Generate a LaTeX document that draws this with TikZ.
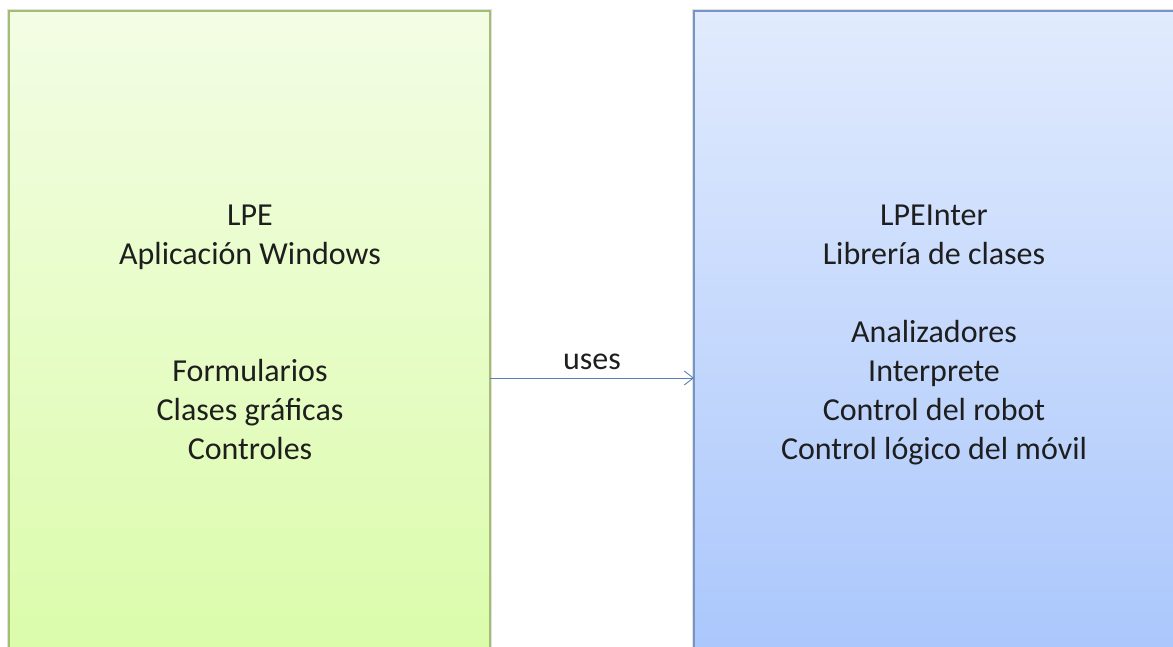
\documentclass[tikz,border=0pt]{standalone}
\usepackage{fontspec}
\setmainfont{Carlito}
\usetikzlibrary{arrows.meta}
\definecolor{greenTop}{HTML}{F3FDE4}
\definecolor{greenBot}{HTML}{D9FCA6}
\definecolor{greenEdge}{HTML}{A3BE72}
\definecolor{blueTop}{HTML}{E1EBFD}
\definecolor{blueBot}{HTML}{A6C4FC}
\definecolor{blueEdge}{HTML}{7595C4}
\definecolor{linkCol}{HTML}{5A7FB5}
\definecolor{txt}{HTML}{1E1E1E}
\begin{document}
\begin{tikzpicture}[x=1pt,y=-1pt,
  panel/.style={rectangle, minimum width=#1, line width=1.2pt, inner sep=0pt},
  txtblock/.style={text=txt, font=\fontsize{32}{39}\selectfont, align=center},
  link/.style={draw=linkCol, line width=0.9pt, -{Straight Barb[length=9pt,width=14pt]}}]
  \useasboundingbox (0,0) rectangle (1173,646);
  % soft shadows along the panel edges
  \fill[black!12] (7,9) rectangle (492,700);
  \fill[black!12] (692,9) rectangle (1190,700);
  % application panel
  \shade[top color=greenTop, bottom color=greenBot] (9,11) rectangle (490,700);
  \draw[greenEdge, line width=1.2pt] (9,700) -- (9,11) -- (490,11) -- (490,700);
  \node[panel=481pt, minimum height=689pt, anchor=north west] (app) at (9,11) {};
  % class library panel
  \shade[top color=blueTop, bottom color=blueBot] (694,11) rectangle (1190,700);
  \draw[blueEdge, line width=1.2pt] (694,700) -- (694,11) -- (1190,11);
  \node[panel=496pt, minimum height=689pt, anchor=north west] (lib) at (694,11) {};
  % panel contents
  \node[txtblock] (appText) at (250,332) {LPE\\Aplicación Windows\\[78pt]Formularios\\Clases gráficas\\Controles};
  \node[txtblock] (libText) at (934,335) {LPEInter\\Librería de clases\\[39pt]Analizadores\\Interprete\\Control del robot\\Control lógico del móvil};
  % dependency
  \coordinate (src) at (490,378);
  \coordinate (dst) at (694,378);
  \draw[link] (src) -- (dst) node[midway, above=4pt, txtblock] (uses) {uses};
\end{tikzpicture}
\end{document}
